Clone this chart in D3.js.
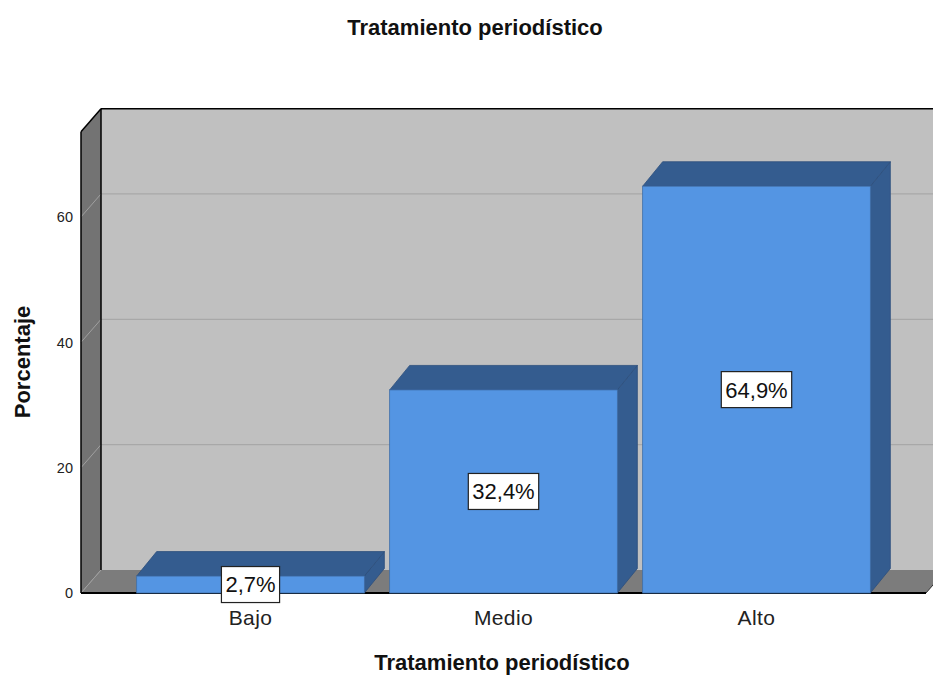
<!DOCTYPE html>
<html>
<head>
<meta charset="utf-8">
<script src="https://cdn.jsdelivr.net/npm/d3@7/dist/d3.min.js"></script>
<style>
  body { margin: 0; background: #fff; }
  svg { display: block; font-family: 'Liberation Sans', Arial, sans-serif; }
</style>
</head>
<body>
<div id="chart"></div>
<script>
// SPSS style 3D bar chart

const categories = ['Bajo', 'Medio', 'Alto'];
const percentages = [2.7, 32.4, 64.9];
const valueLabels = ['2,7%', '32,4%', '64,9%'];
const yTicks = [0, 20, 40, 60];

const width = 933, height = 676;
const wallDx = 20, wallDy = -23;
const barDx = 20, barDy = -24.5;

const svg = d3.select('#chart').append('svg').attr('width', width).attr('height', height);

const y = d3.scaleLinear().domain([0, 73.6]).range([593, 131.7]);
const x = d3.scaleBand().domain(categories).range([81, 926]).paddingInner(0.1).paddingOuter(0.22);

const left = x.range()[0], right = x.range()[1];
const y0 = y(0), yTop = y(y.domain()[1]);

// back wall
svg.append('rect')
    .attr('x', left + wallDx).attr('y', yTop + wallDy)
    .attr('width', right - left + 10).attr('height', y0 - yTop)
    .attr('fill', '#c0c0c0');

// gridlines on back wall
svg.selectAll('line.grid').data(yTicks.filter(d => d > 0)).enter().append('line')
    .attr('class', 'grid')
    .attr('x1', left + wallDx).attr('x2', right + wallDx + 10)
    .attr('y1', d => y(d) + wallDy).attr('y2', d => y(d) + wallDy)
    .attr('stroke', '#a8a8a8').attr('stroke-width', 1.2);

// left wall
svg.append('polygon')
    .attr('points', [[left, yTop], [left + wallDx, yTop + wallDy], [left + wallDx, y0 + wallDy], [left, y0]].join(' '))
    .attr('fill', '#737373');

svg.selectAll('line.wgrid').data(yTicks.filter(d => d > 0)).enter().append('line')
    .attr('class', 'wgrid')
    .attr('x1', left).attr('x2', left + wallDx)
    .attr('y1', d => y(d)).attr('y2', d => y(d) + wallDy)
    .attr('stroke', '#a0a0a0').attr('stroke-width', 1);

// floor
svg.append('polygon')
    .attr('points', [[left, y0], [right, y0], [right + wallDx, y0 + wallDy], [left + wallDx, y0 + wallDy]].join(' '))
    .attr('fill', '#7c7c7c');
svg.append('line')
    .attr('x1', left).attr('y1', y0).attr('x2', left + wallDx).attr('y2', y0 + wallDy)
    .attr('stroke', '#a0a0a0').attr('stroke-width', 1);

// frame lines
const frame = svg.append('g').attr('stroke', '#000').attr('fill', 'none');
frame.append('line').attr('x1', left).attr('y1', yTop).attr('x2', left).attr('y2', y0).attr('stroke-width', 1.5);
frame.append('line').attr('x1', left + wallDx).attr('y1', yTop + wallDy).attr('x2', left + wallDx).attr('y2', y0 + wallDy).attr('stroke-width', 1.5);
frame.append('line').attr('x1', left).attr('y1', yTop).attr('x2', left + wallDx).attr('y2', yTop + wallDy).attr('stroke-width', 1.5);
frame.append('line').attr('x1', left + wallDx).attr('y1', yTop + wallDy).attr('x2', right + wallDx + 10).attr('y2', yTop + wallDy).attr('stroke-width', 1.5);
frame.append('line').attr('x1', left).attr('y1', y0).attr('x2', right).attr('y2', y0).attr('stroke-width', 2);
frame.append('line').attr('x1', right).attr('y1', y0).attr('x2', right + wallDx).attr('y2', y0 + wallDy).attr('stroke', '#333').attr('stroke-width', 1);

// bars
const barData = categories.map((c, i) => ({ cat: c, value: percentages[i], label: valueLabels[i] }));
const bw = x.bandwidth();

const bars = svg.selectAll('g.bar').data(barData).enter().append('g').attr('class', 'bar');

bars.append('polygon')
    .attr('points', d => {
        const bx = x(d.cat), by = y(d.value);
        return [[bx + bw, by], [bx + bw + barDx, by + barDy], [bx + bw + barDx, y0 + barDy], [bx + bw, y0]].join(' ');
    })
    .attr('fill', '#345c8f').attr('stroke', '#2d4f7c').attr('stroke-width', 0.8);

bars.append('polygon')
    .attr('points', d => {
        const bx = x(d.cat), by = y(d.value);
        return [[bx, by], [bx + barDx, by + barDy], [bx + bw + barDx, by + barDy], [bx + bw, by]].join(' ');
    })
    .attr('fill', '#345c8f').attr('stroke', '#2d4f7c').attr('stroke-width', 0.8);

bars.append('rect')
    .attr('x', d => x(d.cat)).attr('y', d => y(d.value))
    .attr('width', bw).attr('height', d => y0 - y(d.value))
    .attr('fill', '#5495e3').attr('stroke', '#3f6ea8').attr('stroke-width', 0.8);

// value labels
bars.each(function (d) {
    const g = d3.select(this);
    const cx = x(d.cat) + bw / 2;
    const cy = (y(d.value) + y0) / 2;
    const t = g.append('text')
        .attr('x', cx).attr('y', cy).attr('dy', '0.36em')
        .attr('text-anchor', 'middle')
        .style('font-size', '22px').style('fill', '#111')
        .text(d.label);
    const bb = t.node().getBBox();
    g.insert('rect', 'text:last-child')
        .attr('x', bb.x - 4).attr('y', cy - 18)
        .attr('width', bb.width + 8).attr('height', 36)
        .attr('fill', '#fff').attr('stroke', '#222').attr('stroke-width', 1.2);
});

// y tick labels
svg.selectAll('text.ytick').data(yTicks).enter().append('text')
    .attr('class', 'ytick')
    .attr('x', 73).attr('y', d => y(d)).attr('dy', '0.36em')
    .attr('text-anchor', 'end')
    .style('font-size', '14.5px').style('fill', '#222')
    .text(d => d);

// category labels
svg.selectAll('text.xcat').data(categories).enter().append('text')
    .attr('class', 'xcat')
    .attr('x', d => x(d) + bw / 2).attr('y', 617).attr('dy', '0.36em')
    .attr('text-anchor', 'middle')
    .style('font-size', '21px').style('letter-spacing', '0.4px').style('fill', '#222')
    .text(d => d);

// titles
svg.append('text').attr('x', 475).attr('y', 35).attr('text-anchor', 'middle')
    .style('font-size', '22px').style('font-weight', 'bold').style('fill', '#111')
    .text('Tratamiento periodístico');

svg.append('text').attr('x', 502).attr('y', 670).attr('text-anchor', 'middle')
    .style('font-size', '22px').style('font-weight', 'bold').style('fill', '#111')
    .text('Tratamiento periodístico');

svg.append('text').attr('transform', 'translate(30,362) rotate(-90)').attr('text-anchor', 'middle')
    .style('font-size', '22px').style('font-weight', 'bold').style('fill', '#111')
    .text('Porcentaje');
</script>
</body>
</html>
